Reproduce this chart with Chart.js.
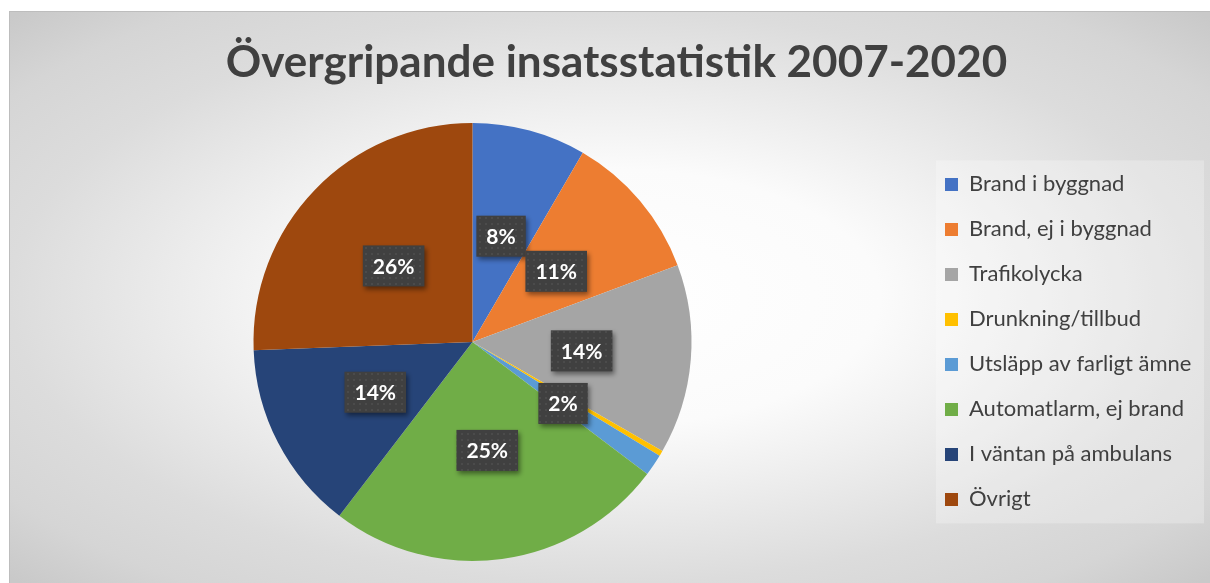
<!DOCTYPE html>
<html lang="sv">
<head>
<meta charset="utf-8">
<title>Övergripande insatsstatistik 2007-2020</title>
<script src="https://cdn.jsdelivr.net/npm/chart.js@4.4.1/dist/chart.umd.min.js"></script>
<style>
  html, body { margin: 0; padding: 0; background: #fff; overflow: hidden; }
  #frame {
    position: absolute; left: 9px; top: 11px;
    width: 1202px; height: 573px; box-sizing: border-box;
    border: 1px solid #bdbdbd;
    background: radial-gradient(ellipse closest-side at 50% 50%, #ffffff 0%, #fbfbfb 45%, #dcdcdc 100%, #d5d5d5 122%, #c9c9c9 140%);
  }
  canvas { display: block; }
</style>
</head>
<body>
<div id="frame"><canvas id="chart" width="1200" height="571"></canvas></div>
<script>
// Kategorier och andelar (procent), avlästa ur originalet
const categories = [
    'Brand i byggnad',
    'Brand, ej i byggnad',
    'Trafikolycka',
    'Drunkning/tillbud',
    'Utsläpp av farligt ämne',
    'Automatlarm, ej brand',
    'I väntan på ambulans',
    'Övrigt'
];
const shares = [8.4, 10.9, 14.0, 0.4, 1.6, 25.1, 14.0, 25.6];
const sliceColors = ['#4472C4', '#ED7D31', '#A5A5A5', '#FFC000', '#5B9BD5', '#70AD47', '#264478', '#9E480E'];
const chartTitle = 'Övergripande insatsstatistik 2007-2020';

const FONT = 'Lato';
const LEGEND_WIDTH = 288;

// mörk etikettbakgrund med små prickar
function dotPattern(ctx) {
    const c = document.createElement('canvas');
    c.width = 6; c.height = 6;
    const p = c.getContext('2d');
    p.fillStyle = '#404040';
    p.fillRect(0, 0, 6, 6);
    p.fillStyle = '#4b4b4b';
    p.fillRect(1, 1, 2, 2);
    return ctx.createPattern(c, 'repeat');
}

const percentLabels = {
    id: 'percentLabels',
    afterDatasetsDraw(chart) {
        const ctx = chart.ctx;
        const meta = chart.getDatasetMeta(0);
        const total = shares.reduce((a, b) => a + b, 0);
        const fill = dotPattern(ctx);
        ctx.save();
        ctx.font = 'bold 21px ' + FONT;
        ctx.textAlign = 'center';
        ctx.textBaseline = 'middle';
        meta.data.forEach((arc, i) => {
            const pct = Math.round(shares[i] / total * 100);
            if (pct < 1) return;
            const text = pct + '%';
            const pos = arc.tooltipPosition();
            const w = ctx.measureText(text).width + 20;
            const h = 41;
            ctx.save();
            ctx.shadowColor = 'rgba(0,0,0,0.45)';
            ctx.shadowBlur = 5;
            ctx.shadowOffsetX = 2;
            ctx.shadowOffsetY = 3;
            ctx.fillStyle = fill;
            ctx.fillRect(pos.x - w / 2, pos.y - h / 2, w, h);
            ctx.restore();
            ctx.fillStyle = '#ffffff';
            ctx.fillText(text, pos.x, pos.y + 1);
        });
        ctx.restore();
    }
};

const legendPanel = {
    id: 'legendPanel',
    afterInit(chart) {
        const legend = chart.legend;
        const fit = legend.fit;
        legend.fit = function () {
            fit.call(this);
            this.width = LEGEND_WIDTH;
        };
    },
    beforeDraw(chart) {
        const lg = chart.legend;
        const boxes = lg.legendHitBoxes;
        if (!boxes || !boxes.length) return;
        const last = boxes[boxes.length - 1];
        const top = boxes[0].top - 13;
        const bottom = last.top + last.height + 13;
        const ctx = chart.ctx;
        ctx.save();
        ctx.fillStyle = 'rgba(255,255,255,0.25)';
        ctx.fillRect(lg.left + 14, top, 268, bottom - top);
        ctx.restore();
    }
};

function drawChart() {
    const ctx = document.getElementById('chart').getContext('2d');
    new Chart(ctx, {
        type: 'pie',
        data: {
            labels: categories,
            datasets: [{
                data: shares,
                backgroundColor: sliceColors,
                borderWidth: 0,
                radius: 219
            }]
        },
        options: {
            responsive: false,
            animation: false,
            layout: { padding: { left: 13, right: 0, top: 0, bottom: 11 } },
            plugins: {
                title: {
                    display: true,
                    text: chartTitle,
                    color: '#404040',
                    font: { family: FONT, size: 44, weight: 'bold', lineHeight: 1.2 },
                    padding: { top: 24, bottom: 23 }
                },
                legend: {
                    position: 'right',
                    align: 'center',
                    fullSize: false,
                    labels: {
                        boxWidth: 13,
                        boxHeight: 13,
                        padding: 23,
                        color: '#404040',
                        font: { family: FONT, size: 22 }
                    }
                },
                tooltip: { enabled: false }
            }
        },
        plugins: [legendPanel, percentLabels]
    });
}

Promise.all([
    document.fonts.load('bold 44px ' + FONT),
    document.fonts.load('22px ' + FONT)
]).then(drawChart, drawChart);
</script>
</body>
</html>
